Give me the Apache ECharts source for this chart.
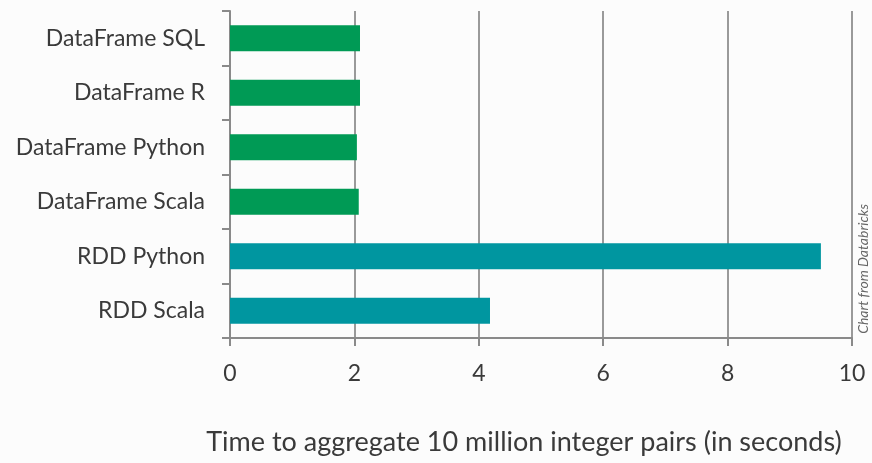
<!DOCTYPE html>
<html>
<head>
<meta charset="utf-8">
<script src="https://cdn.jsdelivr.net/npm/echarts@6/dist/echarts.min.js"></script>
<style>
  html, body { margin: 0; padding: 0; background: #fcfcfc; }
  #main { width: 872px; height: 463px; }
</style>
</head>
<body>
<div id="main"></div>
<script>
var chartDom = document.getElementById('main');
var myChart = echarts.init(chartDom);

// bottom to top, as ECharts lays out a category y axis
const categories = ['RDD Scala', 'RDD Python', 'DataFrame Scala', 'DataFrame Python', 'DataFrame R', 'DataFrame SQL'];
const seconds = [4.18, 9.5, 2.07, 2.04, 2.09, 2.09];
const kinds = ['rdd', 'rdd', 'df', 'df', 'df', 'df'];
const kindColors = { rdd: '#0096A0', df: '#009A55' };
const xTicks = [0, 2, 4, 6, 8, 10];
const xTitle = 'Time to aggregate 10 million integer pairs (in seconds)';

const font = 'Lato, "Open Sans", sans-serif';

var option = {
  backgroundColor: '#fcfcfc',
  animation: false,
  grid: { left: 230, right: 20, top: 11, bottom: 125, outerBoundsMode: 'none', containLabel: false },
  xAxis: {
    type: 'value',
    min: xTicks[0],
    max: xTicks[xTicks.length - 1],
    interval: 2,
    axisLine: { show: true, lineStyle: { color: '#8a8a8a', width: 2 } },
    axisTick: { show: true, length: 8, lineStyle: { color: '#8a8a8a', width: 2 } },
    axisLabel: { fontSize: 23, color: '#3a3a3a', margin: 24, fontFamily: font },
    splitLine: { show: true, lineStyle: { color: '#7a7a7a', width: 1.5 } }
  },
  yAxis: {
    type: 'category',
    data: categories,
    axisLine: { show: true, lineStyle: { color: '#8a8a8a', width: 2 } },
    axisTick: { show: true, length: 8, lineStyle: { color: '#8a8a8a', width: 2 } },
    axisLabel: { fontSize: 23, color: '#3a3a3a', margin: 25, fontFamily: font }
  },
  series: [{
    type: 'bar',
    barWidth: 26,
    data: seconds.map((v, i) => ({
      value: v,
      itemStyle: { color: kindColors[kinds[i]] }
    }))
  }],
  graphic: [{
    type: 'text',
    x: 524,
    y: 442,
    style: {
      text: xTitle,
      align: 'center',
      verticalAlign: 'middle',
      fontSize: 27,
      fill: '#3a3a3a',
      fontFamily: font
    }
  }, {
    type: 'text',
    left: 856,
    top: 204,
    rotation: Math.PI / 2,
    style: {
      text: 'Chart from Databricks',
      fontSize: 14,
      fill: '#666',
      fontFamily: font,
      fontStyle: 'italic'
    }
  }]
};

myChart.setOption(option);
</script>
</body>
</html>
